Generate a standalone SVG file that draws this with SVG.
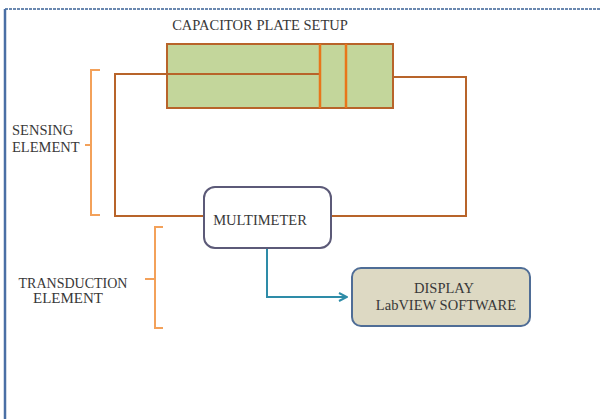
<svg xmlns="http://www.w3.org/2000/svg" width="600" height="419" viewBox="0 0 600 419">
<style>
.t{font-family:"Liberation Serif","Times New Roman",serif;fill:#383838}
.wire{fill:none;stroke:#b8642a;stroke-width:2}
.br{fill:none;stroke:#f3a15a;stroke-width:2}
</style>
<defs>
<marker id="ah" markerWidth="10" markerHeight="10" refX="8" refY="5" orient="auto" markerUnits="userSpaceOnUse">
<path d="M1,1 L9,5 L1,9" fill="none" stroke="#2e8ca8" stroke-width="2"/>
</marker>
</defs>
<rect x="0" y="0" width="600" height="419" fill="#fff"/>
<path d="M5,9 H600" fill="none" stroke="#6a88b0" stroke-width="2" stroke-dasharray="3,1"/>
<path d="M5,419 V9" fill="none" stroke="#4a6fa5" stroke-width="2.5"/>
<g id="connectors">
<path class="wire" d="M167,74 H115 V216 H204"/>
<path class="wire" d="M393,77 H466 V216 H331"/>
<path d="M267,248 V297 H346" fill="none" stroke="#2e8ca8" stroke-width="2" marker-end="url(#ah)"/>
</g>
<g id="capacitor">
<text class="t" x="260" y="30" font-size="14.5" text-anchor="middle">CAPACITOR PLATE SETUP</text>
<rect x="167" y="44" width="226" height="64" fill="#c3d69b" stroke="#b8642a" stroke-width="2"/>
<path d="M167,74 H320" class="wire"/>
<path d="M320,44 V108 M346,44 V108" stroke="#e8761a" stroke-width="2.5"/>
</g>
<g id="sensing">
<path class="br" d="M100,70 H91 V215 H100 M91,145 H85"/>
<text class="t" x="12" y="135" font-size="14.5">SENSING</text>
<text class="t" x="12" y="152" font-size="14.5">ELEMENT</text>
</g>
<g id="transduction">
<path class="br" d="M163,227 H155 V328 H163 M155,279 H145"/>
<text class="t" x="73" y="288" font-size="14" text-anchor="middle">TRANSDUCTION</text>
<text class="t" x="68" y="303" font-size="15" text-anchor="middle">ELEMENT</text>
</g>
<g id="multimeter">
<rect x="204" y="187" width="127" height="61" rx="11" fill="#fff" stroke="#5c5a78" stroke-width="2"/>
<text class="t" x="260" y="225" font-size="14.5" text-anchor="middle">MULTIMETER</text>
</g>
<g id="display">
<rect x="352" y="268" width="178" height="58" rx="9" fill="#ddd9c3" stroke="#4f6d96" stroke-width="2"/>
<text class="t" x="444" y="293" font-size="14.5" text-anchor="middle">DISPLAY</text>
<text class="t" x="446" y="310" font-size="14.5" text-anchor="middle">LabVIEW SOFTWARE</text>
</g>
</svg>
